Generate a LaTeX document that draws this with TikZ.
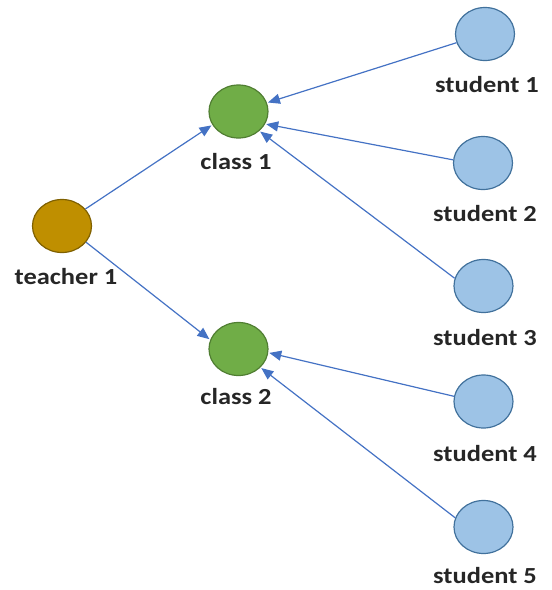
\documentclass[tikz,border=0pt]{standalone}
\usepackage{fontspec}
\setmainfont{Carlito}
\usetikzlibrary{arrows.meta,shapes.geometric}
\definecolor{teachfill}{HTML}{BF8F00}
\definecolor{teachline}{HTML}{7F6000}
\definecolor{classfill}{HTML}{70AD47}
\definecolor{classline}{HTML}{507E32}
\definecolor{studfill}{HTML}{9DC3E6}
\definecolor{studline}{HTML}{41719C}
\definecolor{linkblue}{HTML}{4472C4}
\tikzset{
	dot/.style={ellipse,draw,line width=1.2pt,minimum width=59pt,minimum height=53pt,inner sep=0pt},
	teacher/.style={dot,fill=teachfill,draw=teachline},
	klass/.style={dot,fill=classfill,draw=classline},
	student/.style={dot,fill=studfill,draw=studline},
	lbl/.style={inner sep=0pt,font=\fontsize{23}{23}\selectfont\bfseries,text=black!85,xscale=1.15},
	link/.style={linkblue,line width=1.2pt,-{Triangle[length=12pt,width=10pt]},shorten >=1pt}
}
\begin{document}
\begin{tikzpicture}[x=1pt,y=-1pt]
	\useasboundingbox (0,0) rectangle (552,590);
	\node [teacher] (t1) at (62,226) {};
	\node [lbl] (t1l) at (66,277) {teacher 1};
	\node [klass] (c1) at (238.5,111.5) {};
	\node [lbl] (c1l) at (236,162) {class 1};
	\node [klass] (c2) at (238.5,349) {};
	\node [lbl] (c2l) at (236,397) {class 2};
	\node [student] (s1) at (485,34) {};
	\node [lbl] (s1l) at (487,85) {student 1};
	\node [student] (s2) at (483,163) {};
	\node [lbl] (s2l) at (485,214) {student 2};
	\node [student] (s3) at (483.5,286) {};
	\node [lbl] (s3l) at (485,338) {student 3};
	\node [student] (s4) at (483.5,401.5) {};
	\node [lbl] (s4l) at (485,454) {student 4};
	\node [student] (s5) at (483.5,527) {};
	\node [lbl] (s5l) at (485,576) {student 5};
	\draw [link] (t1.36) -- (c1.-153);
	\draw [link] (t1.-34) -- (c2.162);
	\draw [link] (s1.197) -- (c1.17);
	\draw [link] (s2.174) -- (c1.-25);
	\draw [link] (s3.165) -- (c1.-43);
	\draw [link] (s4.170) -- (c2.-7);
	\draw [link] (s5.162) -- (c2.-40);
\end{tikzpicture}
\end{document}
